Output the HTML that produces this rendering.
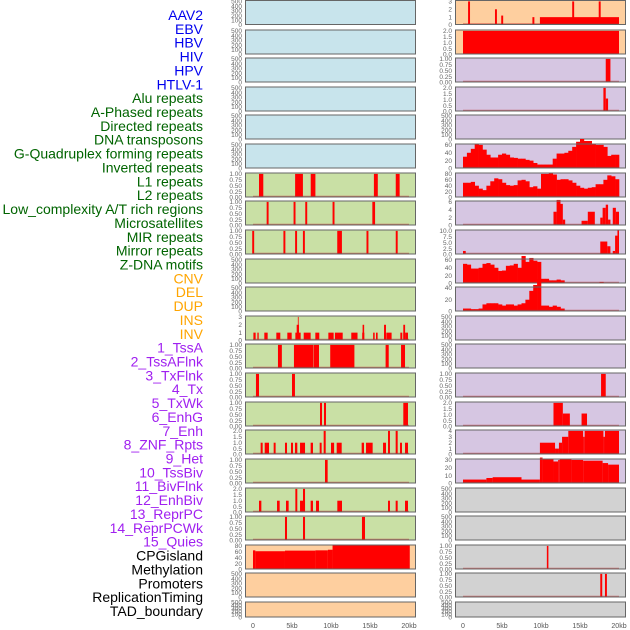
<!DOCTYPE html>
<html><head><meta charset="utf-8"><style>
html,body{margin:0;padding:0;background:#fff;width:630px;height:630px;overflow:hidden}
svg{display:block}
.lab{font-family:"Liberation Sans",sans-serif;font-size:14px}
.tk{font-family:"Liberation Sans",sans-serif;font-size:6.5px;fill:#666}
.xt{font-family:"Liberation Sans",sans-serif;font-size:7px;fill:#555}
</style></head><body>
<svg id="chart" width="630" height="630"></svg>
<script>
// ---- data ----
const trackLabels = ["AAV2","EBV","HBV","HIV","HPV","HTLV-1","Alu repeats","A-Phased repeats","Directed repeats","DNA transposons","G-Quadruplex forming repeats","Inverted repeats","L1 repeats","L2 repeats","Low_complexity A/T rich regions","Microsatellites","MIR repeats","Mirror repeats","Z-DNA motifs","CNV","DEL","DUP","INS","INV","1_TssA","2_TssAFlnk","3_TxFlnk","4_Tx","5_TxWk","6_EnhG","7_Enh","8_ZNF_Rpts","9_Het","10_TssBiv","11_BivFlnk","12_EnhBiv","13_ReprPC","14_ReprPCWk","15_Quies","CPGisland","Methylation","Promoters","ReplicationTiming","TAD_boundary"];
const labelGroups = [6,13,5,15,5];
const groupColors = ["#0000ee","#006400","#ffa500","#a020f0","#000000"];
const xTickLabels = ["0","5kb","10kb","15kb","20kb"];
const xTickValues = [0,5,10,15,20];
const emptyTicks = ["0","100","200","300","400","500"];

// bars: [startKb, endKb, value]
const l06Bars=[[0.77,1.32,1],[5.4,6.4,1],[7.4,8.0,1],[15.5,16.0,1],[18.3,18.8,1]];
const l07Bars=[[1.75,2.0,1],[5.2,5.45,1],[6.7,6.95,1],[10.2,10.45,1],[15.3,15.65,1]];
const l08Bars=[[-0.1,0.15,1],[3.9,4.15,1],[5.4,5.65,1],[6.4,6.65,1],[10.8,11.4,1],[14.55,14.8,1],[18.3,18.55,1]];
const l11Bars=[[0.05,0.34,1],[0.56,0.73,1],[1.45,1.88,1],[2.99,3.5,1],[4.4,4.96,1],[5.43,6.11,1],[5.6,5.9,2],[5.75,5.85,3],[6.5,7.39,1],[7.99,8.5,1],[9.66,10.34,1],[10.5,11.5,1],[12.6,13.4,1],[14.0,14.27,1],[14.05,14.25,2],[15.4,15.6,1],[15.77,15.98,1],[16.8,17.09,1],[16.8,17.05,2],[17.13,17.77,1],[18.89,19.14,1],[19.27,19.53,1],[19.27,19.5,2],[19.53,19.87,1]];
const l12Bars=[[3.2,3.7,1],[5.25,7.73,1],[7.78,8.46,1],[9.9,13.0,1],[17.0,17.4,1],[18.98,19.49,1]];
const l13Bars=[[0.38,0.77,1],[5.0,5.38,1]];
const l14Bars=[[8.59,8.85,1],[9.1,9.36,1],[19.27,19.87,1]];
const l15Bars=[[0.98,1.24,1],[1.5,2.05,1],[2.65,2.9,1],[4.1,4.36,1],[4.87,5.13,1],[5.38,5.68,1],[6.03,6.67,1],[7.39,7.69,1],[8.55,8.8,1],[9.06,9.32,2],[10.0,10.4,1],[10.73,11.37,1],[13.93,14.23,1],[14.49,15.34,1],[16.67,17.05,1],[17.31,17.56,2],[18.29,18.55,2],[18.85,19.1,1],[19.49,19.87,1]];
const l16Bars=[[9.23,9.57,1]];
const l17Bars=[[0.77,1.07,1],[3.08,3.42,1],[4.23,4.57,1],[5.43,5.68,2],[6.03,6.67,1],[6.41,6.67,2],[7.39,7.69,1],[8.08,8.46,1],[10.81,11.41,1],[17.31,17.56,1],[18.29,18.55,1],[19.49,19.87,1]];
const l18Bars=[[4.1,4.36,1],[6.41,6.67,1],[13.97,14.36,1]];
const l19Bars=[[0,0.3,65],[0.3,4.1,62],[4.1,8.0,64],[8.0,9.6,65],[9.6,10.2,67],[10.2,20.1,82]];
const r00Bars=[[0.65,0.9,3],[4.1,4.35,2],[4.9,5.15,1.2],[8.9,9.15,1],[9.86,20,1],[14.0,14.25,3],[17.4,17.65,3]];
const r01Bars=[[0,20,2]];
const r02Bars=[[18.3,18.9,1]];
const r03Bars=[[18.0,18.3,2],[18.3,18.6,1.1]];
const r07Bars=[[11.6,12.0,3.5],[12.0,12.5,6.5],[12.5,12.8,5.5],[12.8,13.1,1.5],[15.2,16.0,1.2],[16.0,16.9,3.5],[17.6,17.9,2],[17.9,18.3,4.5],[18.3,18.6,5.3],[18.6,18.9,1.5],[19.2,19.6,4.5],[19.6,20.0,3.5]];
const r08Bars=[[0,0.35,1.5],[17.6,18.5,5.5],[18.5,18.9,3.5],[19.2,19.5,1.5],[19.5,19.8,8],[19.8,20,10.5]];
const r13Bars=[[17.7,18.3,1]];
const r14Bars=[[11.6,12.8,2],[12.8,13.7,1.1],[15.2,15.9,1.1]];
const r15Bars=[[9.86,11.8,2],[11.8,12.3,1],[12.3,12.7,2],[12.7,13.5,3],[13.5,15.4,4],[15.4,15.6,3],[15.6,18.0,4],[18.0,18.2,3],[18.2,20,4]];
const r16Bars=[[0,3.0,5],[3.0,3.8,7],[3.8,7.5,8],[7.5,9.86,5],[9.86,10.2,33],[10.2,11.6,31],[11.6,12.2,28],[12.2,12.4,30],[12.4,13.9,31],[13.9,15.4,30],[15.4,17.9,29],[17.9,18.6,26],[18.6,20,24]];
const r19Bars=[[10.75,10.95,1]];
const r20Bars=[[17.6,17.85,1],[18.2,18.45,1]];

// profiles: value per 0.5kb bin from 0 to 20kb
const r05Prof=[30,40,50,62,60,48,35,28,28,35,38,35,28,27,25,25,22,20,14,10,10,10,10,25,38,38,40,45,55,68,75,70,70,63,60,60,55,32,35,35];
const r06Prof=[50,50,53,40,30,25,40,55,65,62,50,42,40,42,58,60,55,35,38,30,80,80,82,78,60,62,62,58,50,40,33,30,33,35,45,45,60,75,72,62];
const r09Prof=[50,48,38,38,40,50,52,48,40,32,33,45,46,50,40,70,55,65,58,55,12,12,8,8,10,8,0,0,0,0,0,0,0,0,0,4,0,0,0,0];
const r10Prof=[5,5,4,4,5,12,14,14,14,12,10,12,12,10,12,14,20,35,45,55,10,10,8,10,8,5,0,0,0,0,0,0,0,0,0,0,0,0,0,0];

// tick label arrays
const t3=["0","1","2","3"], t1=["0.00","0.25","0.50","0.75","1.00"], t2=["0.0","0.5","1.0","1.5","2.0"];
const t80=["0","20","40","60","80"], t60=["0","20","40","60"], t40=["0","20","40"], t6=["0","2","4","6"];
const t10=["0.0","2.5","5.0","7.5","10.0"], t4=["0","1","2","3","4"], t30=["0","10","20","30"];

// ---- panel specs ----
const BLUE="#c8e4ec", GREEN="#c9e0a5", PEACH="#fecf9f", LAV="#d6c6e2", GRAY="#d2d2d2";
const leftSpec=[
 [BLUE],[BLUE],[BLUE],[BLUE],[BLUE],[BLUE],
 [GREEN,l06Bars,null,t1,1],[GREEN,l07Bars,null,t1,1],[GREEN,l08Bars,null,t1,1],[GREEN],[GREEN],
 [GREEN,l11Bars,null,t3,3],[GREEN,l12Bars,null,t1,1],[GREEN,l13Bars,null,t1,1],[GREEN,l14Bars,null,t1,1],
 [GREEN,l15Bars,null,t2,2],[GREEN,l16Bars,null,t1,1],[GREEN,l17Bars,null,t2,2],[GREEN,l18Bars,null,t1,1],
 [PEACH,l19Bars,null,t80,80,true],[PEACH],[PEACH]];
const rightSpec=[
 [PEACH,r00Bars,null,t3,3],[PEACH,r01Bars,null,t2,2,true],[LAV,r02Bars,null,t1,1],[LAV,r03Bars,null,t2,2],[LAV],
 [LAV,null,r05Prof,t60,60],[LAV,null,r06Prof,t80,80],[LAV,r07Bars,null,t6,6],[LAV,r08Bars,null,t10,10],
 [LAV,null,r09Prof,t60,60],[LAV,null,r10Prof,t40,40],[LAV],[LAV],[LAV,r13Bars,null,t1,1],[LAV,r14Bars,null,t2,2],
 [LAV,r15Bars,null,t4,4],[LAV,r16Bars,null,t30,30],[GRAY],[GRAY],[GRAY,r19Bars,null,t1,1],[GRAY,r20Bars,null,t1,1],[GRAY]];

const NS="http://www.w3.org/2000/svg";
const svg=document.getElementById("chart");
function mk(tag,attrs,parent){const e=document.createElementNS(NS,tag);for(const k in attrs)e.setAttribute(k,attrs[k]);(parent||svg).appendChild(e);return e;}

// labels
let li=0;
labelGroups.forEach((n,g)=>{for(let j=0;j<n;j++){
  const t=mk("text",{x:203,y:15+li*13.86+5,"text-anchor":"end",class:"lab",fill:groupColors[g]});
  t.textContent=trackLabels[li];
  
  
  li++;}});

const PW=171;
function panel(col,row,spec){
  const L=col?455:245, T=Math.round(row*28.62)+ (row===0?0:0.5), H=row===21?16:25;
  const x0=L+8, kx=7.8;
  const xs=k=>x0+k*kx;
  const g=mk("g",{});
  
  
  mk("rect",{x:L,y:T,width:PW,height:H,fill:spec[0]},g);
  const ticks=spec[3]||emptyTicks;
  const tmax=spec[3]?spec[4]:500;
  const ymax=tmax*(H===25?1.06:1.05);
  const ys=v=>T+H-(v/ymax)*H;
  if(spec[1]){
    spec[1].forEach(b=>{
      const r=mk("rect",{x:xs(b[0]),y:ys(b[2]),width:Math.max(0.8,(b[1]-b[0])*kx),height:T+H-ys(b[2]),fill:"#ff0000"},g);
      
      
    });
  }
  if(spec[2]){
    spec[2].forEach((v,i)=>{
      if(v<=0)return;
      const r=mk("rect",{x:xs(i*0.5),y:ys(v),width:0.5*kx+0.3,height:T+H-ys(v),fill:"#ff0000"},g);
      
      
    });
  }
  if(spec[3]&&!spec[5]){
    mk("line",{x1:xs(0),x2:xs(20),y1:T+H-1,y2:T+H-1,stroke:"rgba(190,40,40,0.55)","stroke-width":1.5},g);
  }
  mk("rect",{x:L+0.5,y:T+0.5,width:PW-1,height:H-1,fill:"none",stroke:"#666","stroke-width":1},g);
  const step=ticks.length-1;
  ticks.forEach((lab,i)=>{
    const v=tmax*i/step;
    const t=mk("text",{x:L-3,y:ys(v)+2.2,"text-anchor":"end",class:"tk"},g);
    t.textContent=lab;
  });
  if(row===21){
    xTickValues.forEach((v,i)=>{
      const t=mk("text",{x:xs(v),y:628,"text-anchor":"middle",class:"xt"},g);
      t.textContent=xTickLabels[i];
      
      
    });
  }
}
leftSpec.forEach((s,i)=>panel(0,i,s));
rightSpec.forEach((s,i)=>panel(1,i,s));
</script>
</body></html>
